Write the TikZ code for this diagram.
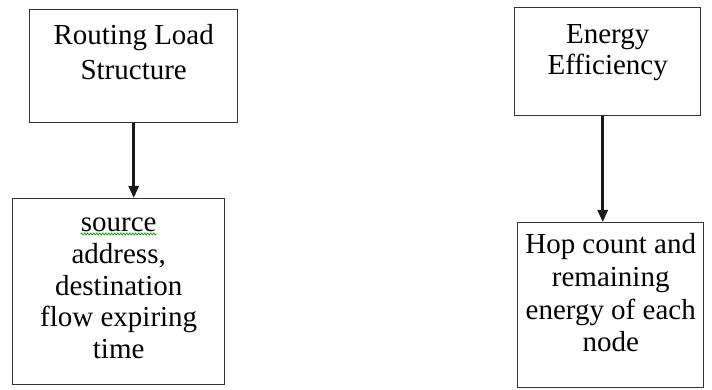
\documentclass[tikz,border=0pt]{standalone}
\usepackage{fontspec}
\setmainfont{Liberation Serif}
\usetikzlibrary{arrows.meta,decorations.pathmorphing}
\newcommand\boxtxt[5]{\parbox[c][#2pt][t]{#1pt}{\centering\rmfamily\fontsize{29}{#4pt}\selectfont\vspace*{\dimexpr#3pt-0.7\baselineskip\relax}\strut#5}}
\begin{document}
\begin{tikzpicture}[x=1pt,y=-1pt,
  box/.style={draw=black!80, line width=1.4pt, inner sep=0pt, anchor=north west, fill=white},
  conn/.style={line width=2.6pt, black!90, -{Triangle[length=12pt,width=10pt]}},
  spell/.style={draw=green!60!black, line width=0.7pt, decorate, decoration={snake, amplitude=1pt, segment length=3pt}}]
\useasboundingbox[fill=white] (0,0) rectangle (712,390);
\node[box] (b1) at (29,9)   {\boxtxt{208}{113}{35}{35}{Routing Load\\Structure}};
\node[box] (b2) at (12,198) {\boxtxt{212}{186}{33}{31.7}{source\\address,\\destination\\flow expiring\\time}};
\node[box] (b3) at (514,7)  {\boxtxt{186}{108}{36}{31}{Energy\\Efficiency}};
\node[box] (b4) at (517,222) {\boxtxt{186}{165}{31}{32.7}{Hop count and\\remaining\\energy of each\\node}};
\draw[spell] ([shift={(-38,36)}]b2.north) -- ([shift={(38,36)}]b2.north);
\draw[conn] (b1.south) -- (b1.south |- b2.north);
\draw[conn] ([xshift=-5pt]b3.south) -- ([xshift=-5pt]b3.south |- b4.north);
\end{tikzpicture}
\end{document}
